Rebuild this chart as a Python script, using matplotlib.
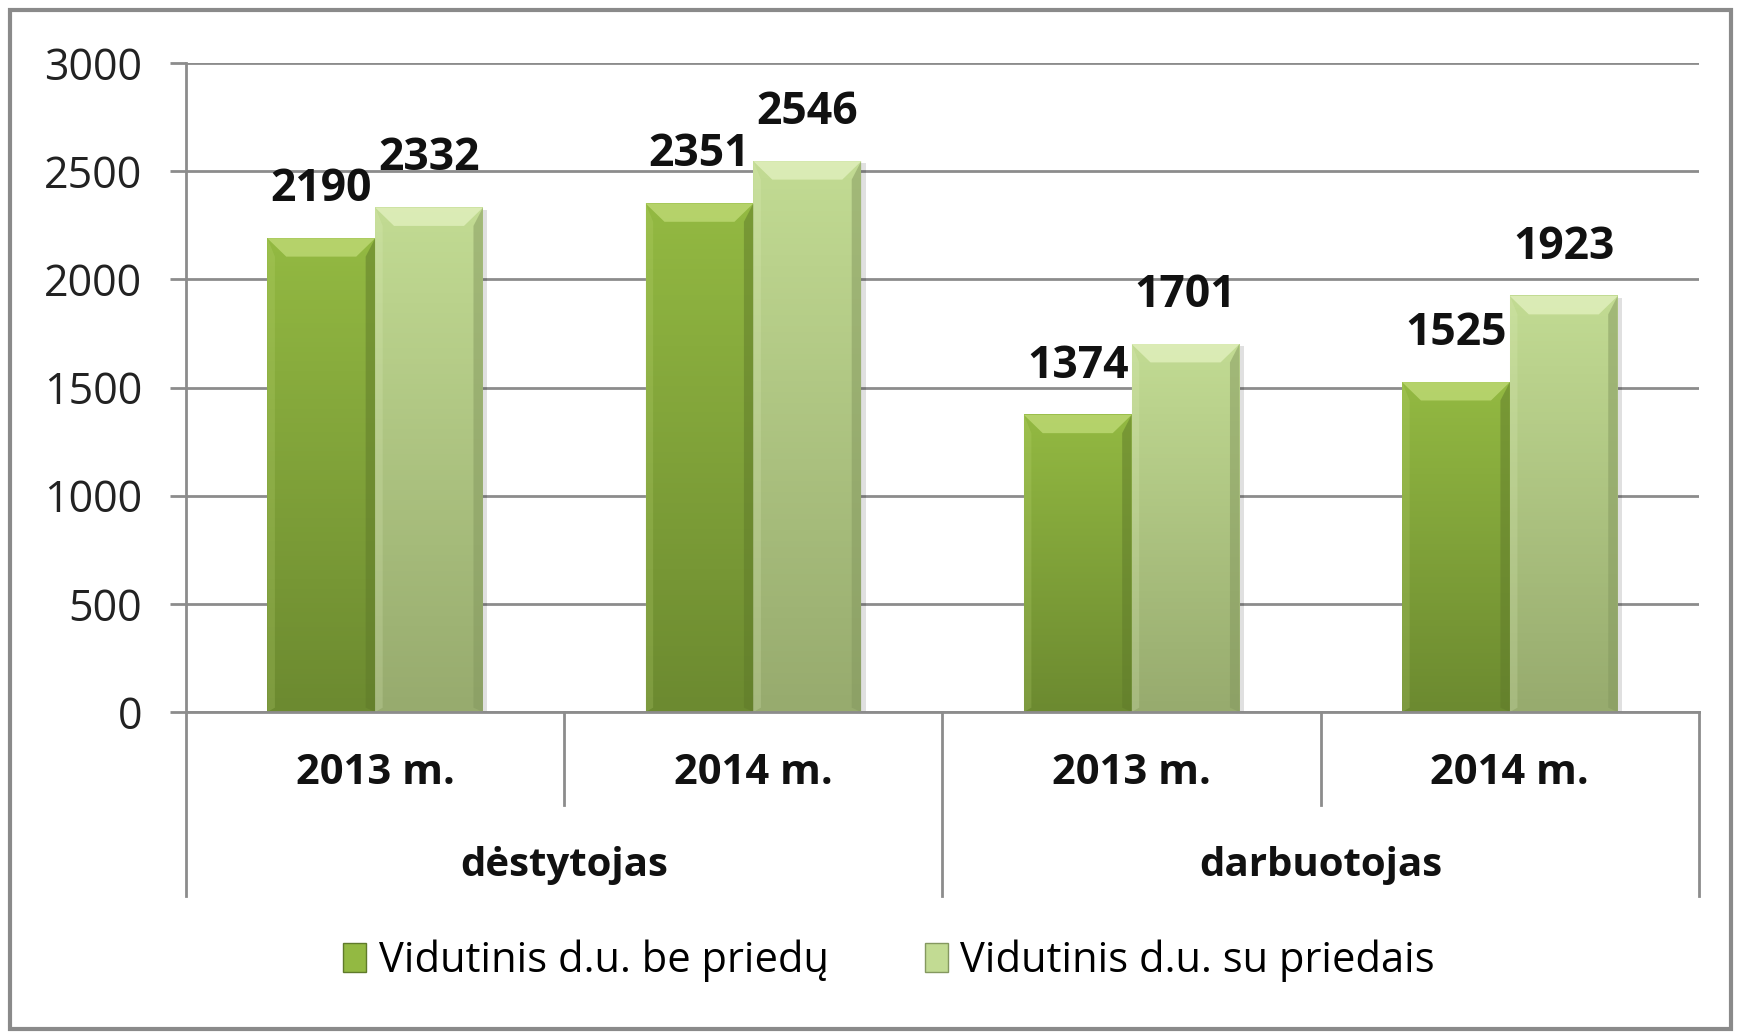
import numpy as np
import matplotlib.pyplot as plt
from matplotlib.patches import Polygon, Rectangle, Patch
from matplotlib.colors import LinearSegmentedColormap

plt.rcParams['font.family'] = ['Open Sans', 'DejaVu Sans']

# data
years = ["2013 m.", "2014 m.", "2013 m.", "2014 m."]
groups = ["dėstytojas", "darbuotojas"]
be_priedu = [2190, 2351, 1374, 1525]
su_priedais = [2332, 2546, 1701, 1923]
series_names = ["Vidutinis d.u. be priedų", "Vidutinis d.u. su priedais"]

# colours: (top, bottom, bevel top, right edge)
dark = ("#93b942", "#6c8a30", "#c4de7c", "#5f7a2a")
light = ("#c2db93", "#97ab6e", "#e6f3c4", "#84985f")

W, H = 1740, 1032
fig = plt.figure(figsize=(W / 100, H / 100), dpi=100)
ax = fig.add_axes([186 / W, 1 - 712 / H, (1699 - 186) / W, (712 - 63) / H])

grid_c = "#8c8c8c"
bar_w = 0.285
x = np.arange(len(years))


def fancy_bar(x0, h, cols):
    top, bot, bev, edge = cols
    x1 = x0 + bar_w
    cmap = LinearSegmentedColormap.from_list("g", [bot, top])
    grad = np.linspace(0, 1, 100).reshape(-1, 1)
    ax.imshow(grad, extent=(x0, x1, 0, h), origin="lower", cmap=cmap,
              aspect="auto", zorder=3)
    d = 0.05
    e = 85
    ax.add_patch(Polygon([(x0, h), (x1, h), (x1 - d, h - e), (x0 + d, h - e)],
                         closed=True, color=bev, lw=0, zorder=4, alpha=0.7))
    ax.add_patch(Polygon([(x1, h), (x1 - d * 0.5, h - e), (x1 - d * 0.5, 20), (x1, 0)],
                         closed=True, color=edge, lw=0, zorder=4, alpha=0.5))
    ax.add_patch(Polygon([(x0, h), (x0 + d * 0.4, h - e), (x0 + d * 0.4, 20), (x0, 0)],
                         closed=True, color=bev, lw=0, zorder=4, alpha=0.2))
    # soft shadow
    ax.add_patch(Rectangle((x1, 0), 0.012, h - 10, color="#000000", alpha=0.12,
                           lw=0, zorder=2))


for i in range(len(years)):
    fancy_bar(x[i] - bar_w, be_priedu[i], dark)
    fancy_bar(x[i], su_priedais[i], light)

for i in range(len(years)):
    for xc, v in [(x[i] - bar_w / 2, be_priedu[i]), (x[i] + bar_w / 2, su_priedais[i])]:
        ax.annotate(str(v), (xc, v), xytext=(0, 35), textcoords="offset points",
                    ha="center", va="center", fontsize=32, fontweight="bold",
                    color="#111111", zorder=6)

ax.set_xlim(-0.5, 3.5)
ax.set_ylim(0, 3000)
ax.set_yticks(range(0, 3001, 500))
ax.yaxis.grid(True, color=grid_c, lw=2)
ax.set_axisbelow(True)
ax.tick_params(axis="y", length=11.5, width=2, color=grid_c, pad=20,
               labelsize=31, labelcolor="#222222")
ax.set_xticks([])
for s in ax.spines.values():
    s.set_visible(False)

# category axis lines
tr = ax.get_xaxis_transform()
ax.plot([-0.5, 3.5], [0, 0], color=grid_c, lw=2, transform=tr, clip_on=False, zorder=5)
ax.plot([-0.5, -0.5], [1, -0.2835], color=grid_c, lw=2, transform=tr, clip_on=False)
ax.plot([3.5, 3.5], [0, -0.2835], color=grid_c, lw=2, transform=tr, clip_on=False)
ax.plot([1.5, 1.5], [0, -0.2835], color=grid_c, lw=2, transform=tr, clip_on=False)
for xs in [0.5, 2.5]:
    ax.plot([xs, xs], [0, -0.143], color=grid_c, lw=2, transform=tr, clip_on=False)

for i, lab in enumerate(years):
    ax.text(x[i], -0.094, lab, transform=tr, ha="center", va="center",
            fontsize=30, fontweight="bold", color="#111111")
for j, g in enumerate(groups):
    ax.text(0.5 + 2 * j, -0.237, g, transform=tr, ha="center", va="center",
            fontsize=29, fontweight="bold", color="#111111")

handles = [Patch(facecolor=dark[0], edgecolor=dark[3]),
           Patch(facecolor=light[0], edgecolor=light[3])]
fig.legend(handles, series_names, loc="center", bbox_to_anchor=(0.511, 1 - 961 / H),
           ncol=2, frameon=False, fontsize=30, handlelength=0.55, handleheight=0.7,
           handletextpad=0.3, columnspacing=2.3)

# outer frame
fig.add_artist(Rectangle((10 / W, 3 / H), 1721 / W, 1019 / H, fill=False,
                         edgecolor="#8a8a8a", lw=3, transform=fig.transFigure))

fig.savefig("out.png", dpi=100)
